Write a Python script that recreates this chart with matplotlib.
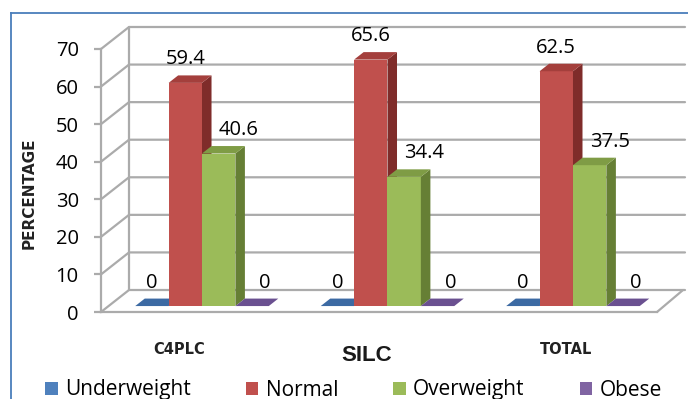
import matplotlib.pyplot as plt
from matplotlib.patches import Polygon, Patch
from matplotlib.lines import Line2D

categories = ['C4PLC', 'SILC', 'TOTAL']
series = ['Underweight', 'Normal', 'Overweight', 'Obese']
underweight = [0, 0, 0]
normal = [59.4, 65.6, 62.5]
overweight = [40.6, 34.4, 37.5]
obese = [0, 0, 0]
values = [underweight, normal, overweight, obese]
yticks = [0, 10, 20, 30, 40, 50, 60, 70]

# front / side / top shades per series
front_colors = ['#4F81BD', '#C0504D', '#9BBB59', '#8064A2']
side_colors = ['#355F91', '#7F2C2A', '#667F35', '#5A4378']
top_colors = ['#3C6AA3', '#A43F3C', '#7F9C45', '#6A5090']

W, H, DPI = 688, 399, 100
fig = plt.figure(figsize=(W / DPI, H / DPI), dpi=DPI)
FONT = 'Open Sans'

# front plane of the chart in pixels
px_left, px_right, px_bot, px_top = 101, 657, 312, 49
ax = fig.add_axes([px_left / W, 1 - px_bot / H,
                   (px_right - px_left) / W, (px_bot - px_top) / H])
xmin, xmax = -0.5445, 2.453
ax.set_xlim(xmin, xmax)
ax.set_ylim(0, 70)
sx = (px_right - px_left) / (xmax - xmin)   # px per x unit
sy = (px_bot - px_top) / 70.0                # px per y unit

# depth of the walls / floor, and of the bars
Dx, Dy = 28 / sx, 22 / sy
f0, fd = 0.27, 0.34
bar_w = 0.18
grid_kw = dict(color='#ababab', lw=1.6, solid_capstyle='round', clip_on=False)

# back wall + left wall gridlines
for v in yticks:
    ax.plot([xmin, xmin + Dx, xmax + Dx], [v, v + Dy, v + Dy],
            zorder=1, **grid_kw)
ax.plot([xmin + Dx, xmin + Dx], [Dy, 70 + Dy], zorder=1, **grid_kw)
ax.plot([xmax, xmax + Dx * 0.93], [0, Dy], zorder=1, **grid_kw)

for s in ['top', 'right']:
    ax.spines[s].set_visible(False)
for s in ['left', 'bottom']:
    ax.spines[s].set_color('#ababab')
    ax.spines[s].set_linewidth(1.6)
ax.set_facecolor('none')
ax.set_yticks(yticks)
ax.tick_params(axis='y', colors='#ababab', length=5, width=1.6, pad=11,
               labelcolor='black', labelsize=14.5)
for lab in ax.get_yticklabels():
    lab.set_fontfamily(FONT)
ax.set_xticks([])

# bars
label_dx = [0, 0, 20, 13]   # px shift of the value labels
b0 = f0 * Dy
dX, dY = fd * Dx, fd * Dy
z = 5
for i in range(len(categories)):
    for j, vals in enumerate(values):
        v = vals[i]
        xl = i + (j - 2) * bar_w
        xr = xl + bar_w
        if v > 0:
            ax.bar(xl, v, bottom=b0, width=bar_w, align='edge',
                   color=front_colors[j], lw=0, zorder=z)
            ax.add_patch(Polygon([(xr, b0), (xr + dX, b0 + dY),
                                  (xr + dX, b0 + v + dY), (xr, b0 + v)],
                                 closed=True, fc=side_colors[j], lw=0,
                                 zorder=z, clip_on=False))
        ax.add_patch(Polygon([(xl, b0 + v), (xr, b0 + v),
                              (xr + dX, b0 + v + dY), (xl + dX, b0 + v + dY)],
                             closed=True, fc=top_colors[j], lw=0,
                             zorder=z, clip_on=False))
        z += 1
        txt = f'{v:g}' if v else '0'
        ax.text(xl + bar_w / 2 + label_dx[j] / sx, b0 + v + dY + 16 / sy, txt,
                ha='center', va='center', fontsize=14.5, family=FONT,
                zorder=50, clip_on=False)

# category labels under the floor
for i, cat in enumerate(categories):
    if cat == 'SILC':
        ax.text(i - 0.11, -11.7, cat, ha='center', va='center',
                fontsize=16, fontweight='bold', family='Liberation Sans',
                color='#1a1a1a', clip_on=False)
    else:
        ax.text(i - 0.125 + 0.09 * (i == 2), -10.0, cat, ha='center',
                va='center', fontsize=10.5, fontweight='bold',
                family='DejaVu Sans', color='#222222', clip_on=False)

fig.text(29 / W, 1 - 193 / H, 'PERCENTAGE', rotation=90, ha='center',
         va='center', fontsize=11, fontweight='bold', family='DejaVu Sans',
         color='#222222')

# outer frame (cut off at right and bottom)
frame_kw = dict(color='#4A7EBB', lw=1.3, transform=fig.transFigure)
fig.add_artist(Line2D([11 / W, 11 / W], [1 - 13 / H, 0], **frame_kw))
fig.add_artist(Line2D([11 / W, 1], [1 - 13 / H, 1 - 13 / H], **frame_kw))

handles = [Patch(fc=c, lw=0) for c in front_colors]
fig.legend(handles, series, loc='center left', ncol=4,
           bbox_to_anchor=(45 / W, 1 - 390 / H), frameon=False,
           prop={'family': FONT, 'size': 15},
           handlelength=0.6, handleheight=0.6, handletextpad=0.35,
           columnspacing=2.65, borderaxespad=0, borderpad=0)

fig.savefig('out.png', dpi=DPI)
